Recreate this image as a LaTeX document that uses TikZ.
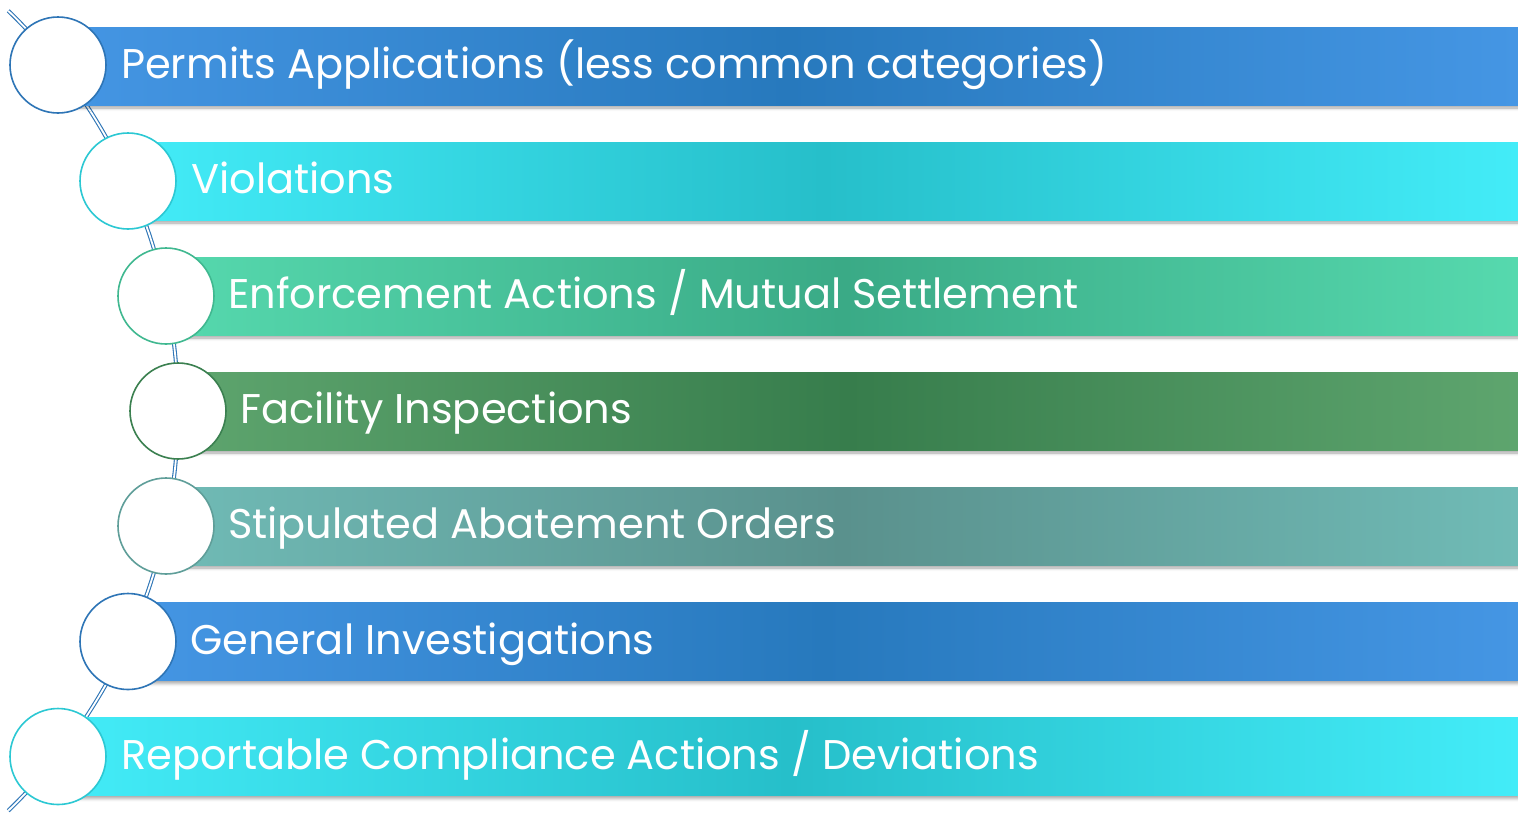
\documentclass[tikz,border=0pt]{standalone}
\usepackage{fontspec}
\setmainfont{Poppins}
\usetikzlibrary{shadows.blur}
\definecolor{blueE}{HTML}{4596E4}
\definecolor{blueM}{HTML}{2779BD}
\definecolor{cyanE}{HTML}{43ECF8}
\definecolor{cyanM}{HTML}{26BFCA}
\definecolor{greenE}{HTML}{56D9AE}
\definecolor{greenM}{HTML}{3AAA86}
\definecolor{dgreenE}{HTML}{5EA56E}
\definecolor{dgreenM}{HTML}{377D4C}
\definecolor{tealE}{HTML}{70BBB6}
\definecolor{tealM}{HTML}{5A918D}
\definecolor{arcblue}{HTML}{2E75B6}
\definecolor{cyanB}{HTML}{2CC8D3}
\definecolor{greenB}{HTML}{40B890}
\definecolor{dgreenB}{HTML}{3B8050}
\definecolor{tealB}{HTML}{5F9E99}
\begin{document}
\begin{tikzpicture}[x=1pt,y=-1pt,
  bar/.style={rectangle, anchor=west, minimum height=78pt, inner sep=0pt,
    blur shadow={shadow xshift=1pt, shadow yshift=-3pt, shadow blur radius=3pt, shadow opacity=35}},
  dot/.style={circle, fill=white, minimum size=96pt, inner sep=0pt, line width=1.6pt},
  lbl/.style={anchor=base west, inner sep=0pt, text=white, font=\fontsize{41.5}{44}\selectfont},
  conn/.style={draw=arcblue, double=white, double distance=1.8pt, line width=1.1pt}]
\useasboundingbox (0,0) rectangle (1518,815);
% arc
\coordinate (ctr) at (-378,410.75);
\coordinate (top) at ([shift={(-46:556)}]ctr);
\draw[conn] (top) arc[start angle=-46, end angle=46, radius=556];
% bars
\node[bar, minimum width=1460pt, left color=blueE, right color=blueE, middle color=blueM] (b1) at (58,66) {};
\node[bar, minimum width=1390pt, left color=cyanE, right color=cyanE, middle color=cyanM] (b2) at (128,181) {};
\node[bar, minimum width=1352pt, left color=greenE, right color=greenE, middle color=greenM] (b3) at (166,296) {};
\node[bar, minimum width=1340pt, left color=dgreenE, right color=dgreenE, middle color=dgreenM] (b4) at (178,411) {};
\node[bar, minimum width=1352pt, left color=tealE, right color=tealE, middle color=tealM] (b5) at (166,526) {};
\node[bar, minimum width=1390pt, left color=blueE, right color=blueE, middle color=blueM] (b6) at (128,641.5) {};
\node[bar, minimum width=1460pt, left color=cyanE, right color=cyanE, middle color=cyanM] (b7) at (58,756.5) {};
% circles
\node[dot, draw=arcblue] (c1) at (58,65) {};
\node[dot, draw=cyanB] (c2) at (128,181) {};
\node[dot, draw=greenB] (c3) at (166,296) {};
\node[dot, draw=dgreenB] (c4) at (178,411) {};
\node[dot, draw=tealB] (c5) at (166,526) {};
\node[dot, draw=arcblue] (c6) at (128,641.5) {};
\node[dot, draw=cyanB] (c7) at (58,756.5) {};
% labels
\node[lbl] (t1) at (121,78) {Permits Applications (less common categories)};
\node[lbl] (t2) at (191,193) {Violations};
\node[lbl] (t3) at (228,308) {Enforcement Actions / Mutual Settlement};
\node[lbl] (t4) at (240,423) {Facility Inspections};
\node[lbl] (t5) at (228,538) {Stipulated Abatement Orders};
\node[lbl] (t6) at (190,654) {General Investigations};
\node[lbl] (t7) at (121,769) {Reportable Compliance Actions / Deviations};
\end{tikzpicture}
\end{document}
